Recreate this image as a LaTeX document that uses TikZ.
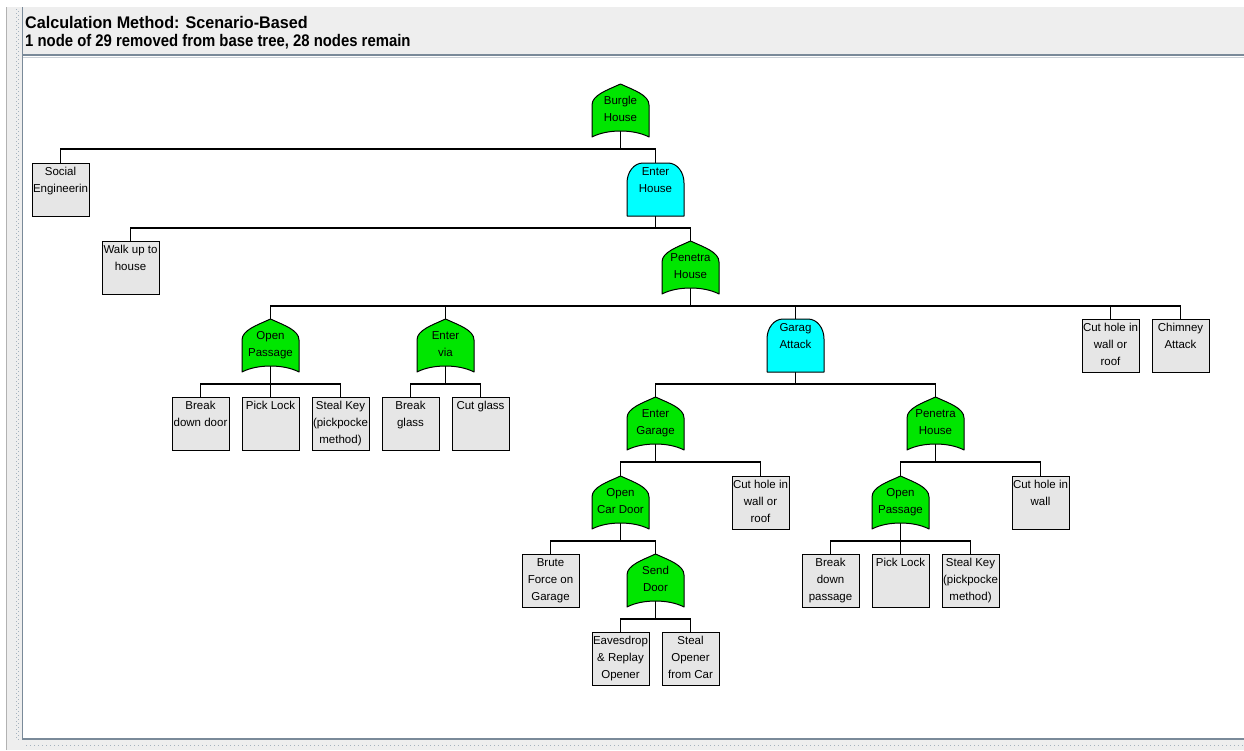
\documentclass[tikz,border=0pt]{standalone}
\usepackage{fontspec}
\setmainfont{Liberation Sans}
\usetikzlibrary{calc}
\pgfdeclarelayer{bg}\pgfdeclarelayer{edges}\pgfdeclarelayer{shapes}
\pgfsetlayers{bg,edges,shapes,main}
\definecolor{orgreen}{RGB}{0,230,0}
\definecolor{andcyan}{RGB}{0,255,255}
\definecolor{evgray}{RGB}{230,230,230}
\definecolor{hdrgray}{RGB}{238,238,238}
\definecolor{frameblue}{RGB}{122,138,153}
\definecolor{dotgray}{RGB}{165,178,190}
\newcommand\evtext[1]{\parbox[c][53pt][t]{57pt}{\centering\rule{0pt}{12.5pt}#1}}
\newcommand\ortext[1]{\parbox[c][53pt][t]{57pt}{\centering\rule{0pt}{20.5pt}#1}}
\tikzset{
  cell/.style={minimum width=57pt, minimum height=53pt, inner sep=0pt, outer sep=0pt,
    font=\fontsize{11.5}{17}\selectfont},
  ev/.style={cell, draw=black, fill=evgray, line width=1pt},
  gate/.style={cell},
  gateline/.style={draw=black, line width=1pt, line join=round},
  edge/.style={draw=black, line width=1.1pt},
  hdr/.style={anchor=base west, inner sep=0pt, font=\fontsize{16}{19}\selectfont\bfseries},
}
\newcommand\orshape[1]{%
  \begin{pgfonlayer}{shapes}
  \draw[gateline, fill=orgreen] (#1.south west) -- ([yshift=-21pt]#1.north west)
    .. controls ([yshift=-11pt]#1.north west) and ([xshift=-13pt,yshift=-6pt]#1.north) .. (#1.north)
    .. controls ([xshift=13pt,yshift=-6pt]#1.north) and ([yshift=-11pt]#1.north east) .. ([yshift=-21pt]#1.north east)
    -- (#1.south east)
    .. controls ([xshift=-15pt,yshift=8pt]#1.south east) and ([xshift=15pt,yshift=8pt]#1.south west) .. (#1.south west)
    -- cycle;
  \end{pgfonlayer}}
\newcommand\andshape[1]{%
  \begin{pgfonlayer}{shapes}
  \draw[gateline, fill=andcyan] (#1.south west) -- ([yshift=-20pt]#1.north west)
    .. controls ([yshift=-9pt]#1.north west) and ([xshift=7pt]#1.north west) .. ([xshift=16pt]#1.north west)
    -- ([xshift=-16pt]#1.north east)
    .. controls ([xshift=-7pt]#1.north east) and ([yshift=-9pt]#1.north east) .. ([yshift=-20pt]#1.north east)
    -- (#1.south east) -- cycle;
  \end{pgfonlayer}}
\newcommand\conn[2]{\draw[edge] (#1.center) -- ++(0,38.5) -| (#2.north);}
\begin{document}
\begin{tikzpicture}[x=1pt,y=-1pt]
\useasboundingbox (0,0) rectangle (1244,750);
\begin{pgfonlayer}{bg}
\fill[white] (0,0) rectangle (1244,750);
\fill[hdrgray] (22,7) rectangle (1244,55);
\fill[hdrgray] (6,7) rectangle (22,750);
\draw[gray!60, line width=0.6pt] (6,7) -- (6,750);
\foreach \y in {9,13,...,737} {\fill[dotgray] (15.5,\y) rectangle ++(1.2,1.2); \fill[dotgray] (18,\y+2) rectangle ++(1.2,1.2);}
\fill[hdrgray] (22,740) rectangle (1244,750);
\foreach \x in {26,30,...,1242} {\fill[dotgray] (\x,745) rectangle ++(1.2,1.2);}
\draw[frameblue, line width=1.5pt] (22,55) -- (1244,55);
\draw[frameblue!40, line width=1pt] (22,57) -- (1244,57);
\draw[frameblue, line width=1.5pt] (22.5,7) -- (22.5,740);
\draw[frameblue, line width=1.5pt] (22,739) -- (1244,739);
\end{pgfonlayer}

\node[hdr] (hdr1) at (25,28) {\scalebox{1.01}[1.05]{Calculation Method: Scenario-Based}};
\node[hdr] (hdr2) at (25,46) {\scalebox{0.93}[1.05]{1 node of 29 removed from base tree, 28 nodes remain}};

% level 0
\node[gate] (burgle) at (620.5,110.5) {\ortext{Burgle\\House}};
% level 1
\node[ev] (social) at (60.5,189.5) {\evtext{Social\\Engineerin}};
\node[gate] (enterh) at (655.5,189.5) {\evtext{Enter\\House}};
% level 2
\node[ev] (walk) at (130.5,267.5) {\evtext{Walk up to\\house}};
\node[gate] (pen1) at (690.5,267.5) {\ortext{Penetra\\House}};
% level 3
\node[gate] (open1) at (270.5,345.5) {\ortext{Open\\Passage}};
\node[gate] (entervia) at (445.5,345.5) {\ortext{Enter\\via}};
\node[gate] (garag) at (795.5,345.5) {\evtext{Garag\\Attack}};
\node[ev] (cuthole1) at (1110.5,345.5) {\evtext{Cut hole in\\wall or\\roof}};
\node[ev] (chimney) at (1180.5,345.5) {\evtext{Chimney\\Attack}};
% level 4
\node[ev] (bdd) at (200.5,423.5) {\evtext{Break\\down door}};
\node[ev] (pick1) at (270.5,423.5) {\evtext{Pick Lock}};
\node[ev] (steal1) at (340.5,423.5) {\evtext{Steal Key\\(pickpocke\\method)}};
\node[ev] (bglass) at (410.5,423.5) {\evtext{Break\\glass}};
\node[ev] (cglass) at (480.5,423.5) {\evtext{Cut glass}};
\node[gate] (entgar) at (655.5,423.5) {\ortext{Enter\\Garage}};
\node[gate] (pen2) at (935.5,423.5) {\ortext{Penetra\\House}};
% level 5
\node[gate] (opencar) at (620.5,502.5) {\ortext{Open\\Car Door}};
\node[ev] (cuthole2) at (760.5,502.5) {\evtext{Cut hole in\\wall or\\roof}};
\node[gate] (open2) at (900.5,502.5) {\ortext{Open\\Passage}};
\node[ev] (cuthole3) at (1040.5,502.5) {\evtext{Cut hole in\\wall}};
% level 6
\node[ev] (brute) at (550.5,580.5) {\evtext{Brute\\Force on\\Garage}};
\node[gate] (send) at (655.5,580.5) {\ortext{Send\\Door}};
\node[ev] (bdp) at (830.5,580.5) {\evtext{Break\\down\\passage}};
\node[ev] (pick2) at (900.5,580.5) {\evtext{Pick Lock}};
\node[ev] (steal2) at (970.5,580.5) {\evtext{Steal Key\\(pickpocke\\method)}};
% level 7
\node[ev] (eaves) at (620.5,658.5) {\evtext{Eavesdrop\\\& Replay\\Opener}};
\node[ev] (stealop) at (690.5,658.5) {\evtext{Steal\\Opener\\from Car}};

% gate shapes
\orshape{burgle}
\andshape{enterh}
\orshape{pen1}
\orshape{open1}
\orshape{entervia}
\andshape{garag}
\orshape{entgar}
\orshape{pen2}
\orshape{opencar}
\orshape{open2}
\orshape{send}

% connectors
\begin{pgfonlayer}{edges}
\conn{burgle}{social}
\conn{burgle}{enterh}
\conn{enterh}{walk}
\conn{enterh}{pen1}
\conn{pen1}{open1}
\conn{pen1}{entervia}
\conn{pen1}{garag}
\conn{pen1}{cuthole1}
\conn{pen1}{chimney}
\conn{open1}{bdd}
\conn{open1}{pick1}
\conn{open1}{steal1}
\conn{entervia}{bglass}
\conn{entervia}{cglass}
\conn{garag}{entgar}
\conn{garag}{pen2}
\conn{entgar}{opencar}
\conn{entgar}{cuthole2}
\conn{pen2}{open2}
\conn{pen2}{cuthole3}
\conn{opencar}{brute}
\conn{opencar}{send}
\conn{open2}{bdp}
\conn{open2}{pick2}
\conn{open2}{steal2}
\conn{send}{eaves}
\conn{send}{stealop}
\end{pgfonlayer}
\end{tikzpicture}
\end{document}
